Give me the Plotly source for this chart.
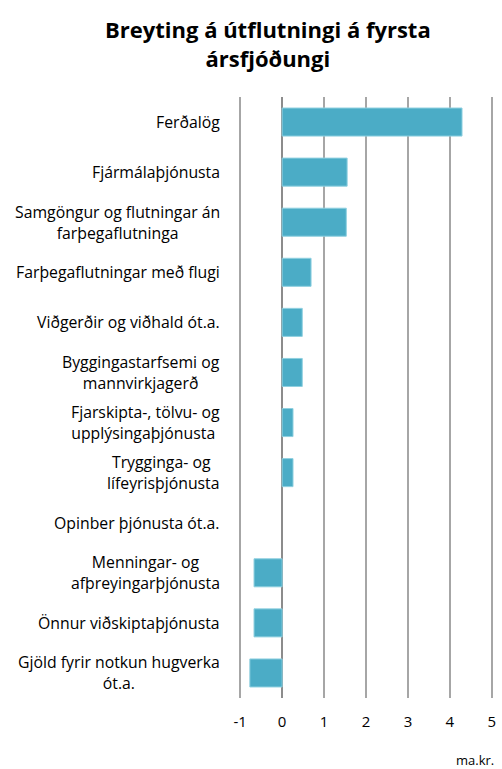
import plotly.graph_objects as go

categories = [
    "Ferðalög",
    "Fjármálaþjónusta",
    "Samgöngur og flutningar án<br>farþegaflutninga",
    "Farþegaflutningar með flugi",
    "Viðgerðir og viðhald ót.a.",
    "Byggingastarfsemi og<br>mannvirkjagerð",
    "Fjarskipta-, tölvu- og<br>upplýsingaþjónusta\u00a0",
    "Trygginga- og\u00a0<br>lífeyrisþjónusta",
    "Opinber þjónusta ót.a.",
    "Menningar- og<br>afþreyingarþjónusta",
    "Önnur viðskiptaþjónusta",
    "Gjöld fyrir notkun hugverka<br>ót.a.",
]
values = [4.29, 1.55, 1.53, 0.69, 0.48, 0.48, 0.26, 0.26, 0.0, -0.67, -0.67, -0.77]
x_ticks = [-1, 0, 1, 2, 3, 4, 5]
x_tick_labels = ["-1", "0", "1", "2", "3", "4", "5"]

FONT = "Open Sans"
L, R, T, B = 236, 6, 97, 71
W, H = 502, 769
PW, PH = W - L - R, H - T - B

fig = go.Figure(
    go.Bar(
        y=list(range(len(categories))),
        x=values,
        orientation="h",
        width=0.56,
        marker=dict(
            color="#4BACC6",
            line=dict(color="#8FD0E0", width=[0 if v == 0 else 1 for v in values]),
        ),
        hoverinfo="x",
    )
)

for i, c in enumerate(categories):
    fig.add_annotation(
        x=(222 - L) / PW, xref="paper", y=i, yref="y",
        text=c, showarrow=False, xanchor="right", yanchor="middle",
        align="center", font=dict(family=FONT, size=15.8, color="#000000"),
    )

fig.add_annotation(
    x=(496 - L) / PW, xref="paper", y=-(760 - (H - B)) / PH, yref="paper",
    text="ma.kr.", showarrow=False, xanchor="right", yanchor="middle",
    font=dict(family=FONT, size=13, color="#000000"),
)

fig.add_annotation(
    x=(268 - L) / PW, xref="paper", y=1 + (T - 12) / PH, yref="paper",
    text="<b>Breyting á útflutningi á fyrsta<br>ársfjóðungi</b>",
    showarrow=False, xanchor="center", yanchor="top", align="center",
    font=dict(family=FONT, size=22, color="#000000"),
)

fig.update_layout(
    width=W, height=H,
    margin=dict(l=L, r=R, t=T, b=B),
    paper_bgcolor="white", plot_bgcolor="white",
    showlegend=False,
    xaxis=dict(
        range=[-1.1, 5.1], tickvals=x_ticks, ticktext=x_tick_labels,
        showgrid=True, gridcolor="#A6A6A6", gridwidth=1.5,
        zeroline=True, zerolinecolor="#8C8C8C", zerolinewidth=2,
        ticks="", ticklabelstandoff=13,
        tickfont=dict(family=FONT, size=15, color="#000000"),
        showline=False,
    ),
    yaxis=dict(
        range=[11.5, -0.5], showticklabels=False, showgrid=False,
        zeroline=False, showline=False,
    ),
)

fig.write_html(
    "out.html",
    config={"displayModeBar": False},
    post_script="document.body.style.margin='0';document.body.style.overflow='hidden';",
)
